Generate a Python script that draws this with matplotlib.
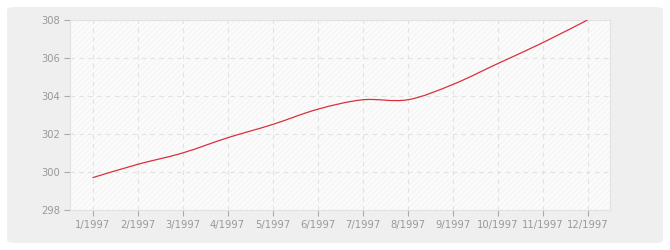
import numpy as np
import matplotlib
matplotlib.use("Agg")
import matplotlib.pyplot as plt
from matplotlib.patches import FancyBboxPatch, PathPatch
from matplotlib.path import Path

# data
months = ["1/1997", "2/1997", "3/1997", "4/1997", "5/1997", "6/1997",
          "7/1997", "8/1997", "9/1997", "10/1997", "11/1997", "12/1997"]
values = [299.7, 300.4, 301.0, 301.8, 302.5, 303.3,
          303.8, 303.8, 304.6, 305.7, 306.8, 308.0]
y_ticks = [298, 300, 302, 304, 306, 308]

plt.rcParams["font.family"] = ["DejaVu Sans"]
plt.rcParams["hatch.color"] = "#f1f1f1"
plt.rcParams["hatch.linewidth"] = 0.5

fig = plt.figure(figsize=(6.7, 2.5), dpi=100)
fig.patch.set_facecolor("white")

# rounded grey panel behind the chart
panel = FancyBboxPatch((7 / 670, 7 / 250), 656 / 670, 236 / 250,
                       boxstyle="round,pad=0,rounding_size=0.012",
                       transform=fig.transFigure, facecolor="#efefef",
                       edgecolor="none", zorder=-10)
fig.patches.append(panel)

ax = fig.add_axes([70 / 670, 40 / 250, 540 / 670, 190 / 250])
ax.set_zorder(1)
ax.set_facecolor("#fbfbfb")
ax.patch.set_hatch("//////")
ax.patch.set_edgecolor("#f1f1f1")
ax.patch.set_linewidth(0)

# smooth curve through the points (cubic bezier, catmull-rom style)
x = np.arange(len(values))
y = np.array(values)
verts = [(x[0], y[0])]
codes = [Path.MOVETO]
for i in range(len(x) - 1):
    x0, y0 = x[max(i - 1, 0)], y[max(i - 1, 0)]
    x1, y1 = x[i], y[i]
    x2, y2 = x[i + 1], y[i + 1]
    x3, y3 = x[min(i + 2, len(x) - 1)], y[min(i + 2, len(x) - 1)]
    c1 = (x1 + (x2 - x0) / 6, y1 + (y2 - y0) / 6)
    c2 = (x2 - (x3 - x1) / 6, y2 - (y3 - y1) / 6)
    verts += [c1, c2, (x2, y2)]
    codes += [Path.CURVE4] * 3
ax.add_patch(PathPatch(Path(verts, codes), facecolor="none",
                       edgecolor="#d9303e", lw=0.9, zorder=3))

ax.set_xlim(-0.5, 11.5)
ax.set_ylim(298, 308)
ax.set_xticks(x)
ax.set_xticklabels(months)
ax.set_yticks(y_ticks)

ax.grid(True, color="#e2e2e2", linestyle=(0, (4, 4)), linewidth=0.8)
ax.set_axisbelow(True)

for side in ["top", "right", "left", "bottom"]:
    ax.spines[side].set_color("#e2e2e2")
    ax.spines[side].set_linewidth(0.8)

ax.tick_params(axis="both", colors="#999999", labelsize=7.2, length=4,
               width=0.8, pad=3)
ax.tick_params(axis="both", color="#aaaaaa")

fig.savefig("out.png", dpi=100)
